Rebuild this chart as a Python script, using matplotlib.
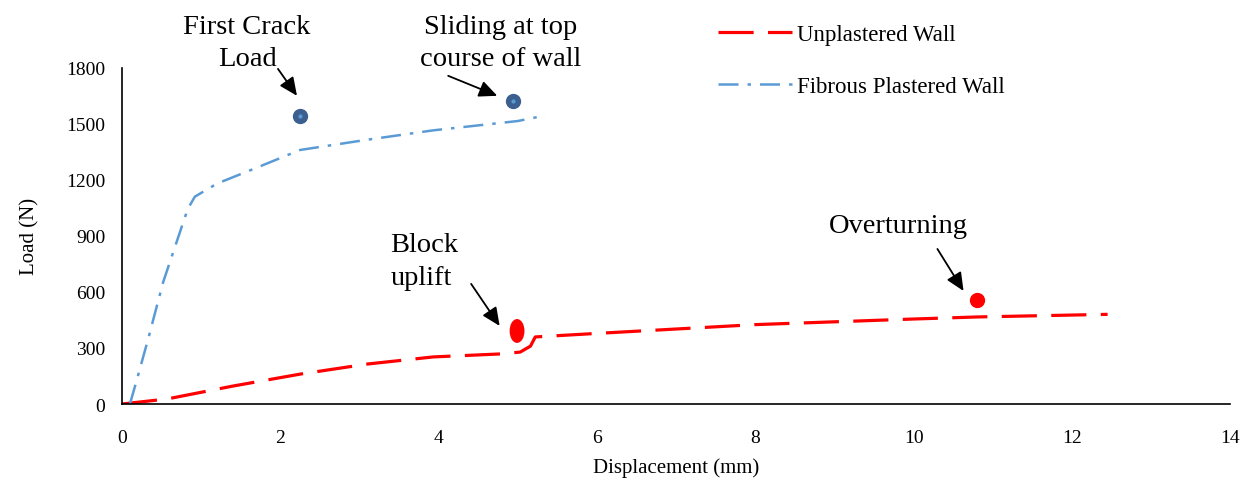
import matplotlib
matplotlib.use("Agg")
import matplotlib.pyplot as plt
from matplotlib.patches import Ellipse

plt.rcParams["font.family"] = ["Liberation Serif", "DejaVu Serif"]

# data
unpl_x = [0.0, 0.57, 1.4, 2.25, 3.1, 3.93, 4.78, 5.03, 5.16, 5.22, 6.0, 8.0, 10.0, 10.8, 12.45]
unpl_y = [0, 27, 96, 160, 214, 252, 268, 278, 310, 359, 378, 425, 455, 466, 480]

fib_x = [0.1, 0.19, 0.33, 0.52, 0.69, 0.83, 0.92, 1.2, 1.7, 2.25, 3.1, 3.93, 5.0, 5.35]
fib_y = [0, 134, 348, 653, 868, 1044, 1110, 1180, 1265, 1360, 1415, 1465, 1515, 1545]

events = ["First Crack\nLoad", "Sliding at top\ncourse of wall", "Block\nuplift", "Overturning"]
event_x = [2.25, 4.94, 4.99, 10.8]
event_y = [1543, 1623, 391, 557]

RED = "#FF0000"
BLUE = "#5B9BD5"
DARK = "#3B5F8F"

fig = plt.figure(figsize=(12.58, 4.81), dpi=100)
ax = fig.add_axes([0.097, 0.158, 0.881, 0.699])

ax.plot(unpl_x, unpl_y, color=RED, linewidth=2.3, dashes=(11, 4.5),
        label="Unplastered Wall")
ax.plot(fib_x, fib_y, color=BLUE, linewidth=1.8, dashes=(8, 3.6, 1.4, 3.6),
        label="Fibrous Plastered Wall")

# event markers
ax.plot(event_x[0:2], event_y[0:2], "o", color=DARK, markersize=10, zorder=5)
ax.plot(event_x[0:2], event_y[0:2], "o", color=BLUE, markersize=2, zorder=6)
ax.add_patch(Ellipse((event_x[2], event_y[2]), 0.17, 120, color=RED, zorder=5))
ax.plot([event_x[3]], [event_y[3]], "o", color=RED, markersize=10, zorder=5)

# labels and arrows
text_pos = [(1.58, 1934, "center"), (4.78, 1934, "center"), (3.39, 766, "left"), (9.81, 953, "center")]
arrow_tail = [(1.97, 1794), (4.12, 1757), (4.41, 643), (10.3, 830)]
arrow_head = [(2.21, 1650), (4.74, 1650), (4.77, 418), (10.63, 605)]

arrow = dict(arrowstyle="-|>,head_length=1.1,head_width=0.5", color="black",
             lw=1.3, shrinkA=0, shrinkB=0)
for label, (tx, ty, ha), tail, head in zip(events, text_pos, arrow_tail, arrow_head):
    ax.text(tx, ty, label, ha=ha, va="center", fontsize=20.5, linespacing=1.38,
            clip_on=False)
    ax.annotate("", xy=head, xytext=tail, arrowprops=arrow, annotation_clip=False)

ax.set_xlim(0, 14)
ax.set_ylim(0, 1800)
ax.set_xticks(range(0, 15, 2))
ax.set_yticks(range(0, 1801, 300))
ax.tick_params(length=0, labelsize=14)
ax.tick_params(axis="x", pad=18)
ax.tick_params(axis="y", pad=12)
for side in ["top", "right"]:
    ax.spines[side].set_visible(False)
for side in ["left", "bottom"]:
    ax.spines[side].set_linewidth(1.2)
ax.set_xlabel("Displacement (mm)", fontsize=15, labelpad=8)
ax.set_ylabel("Load (N)", fontsize=15, labelpad=19)

fig.legend(loc="upper left", bbox_to_anchor=(0.571, 0.948), frameon=False,
          fontsize=16.5, handlelength=3.2, handletextpad=0.25, labelspacing=1.35,
          borderpad=0, borderaxespad=0)

fig.savefig("out.png", dpi=100)
